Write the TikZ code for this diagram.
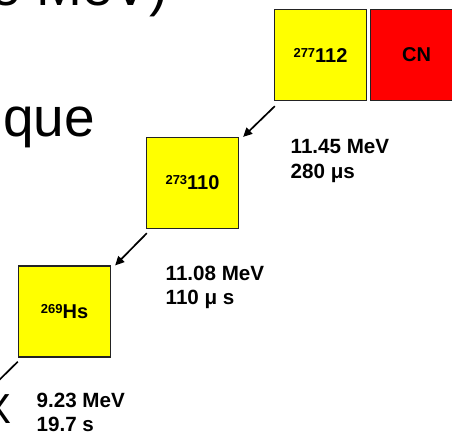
\documentclass[tikz,border=0pt]{standalone}
\usepackage{fontspec}
\setmainfont{Liberation Sans}
\usetikzlibrary{arrows.meta}
\definecolor{nucyellow}{RGB}{255,255,0}
\definecolor{nucred}{RGB}{255,0,0}
\definecolor{boxline}{RGB}{35,35,35}
\tikzset{
  nuc/.style={draw=boxline, line width=1.3pt, minimum width=92pt, minimum height=91pt,
    inner sep=0pt, font=\fontsize{20}{22}\selectfont\bfseries},
  decay/.style={draw=black, line width=1.7pt, -{Triangle[length=9pt,width=8.5pt]}},
  info/.style={anchor=north west, inner sep=0pt, align=left,
    font=\fontsize{20.6}{24.5}\selectfont\bfseries},
  big/.style={inner sep=0pt, font=\fontsize{55}{66}\selectfont}
}
\newcommand{\iso}[2]{{\fontsize{13}{13}\selectfont\raisebox{5pt}{#1}}#2}
\begin{document}
\begin{tikzpicture}[x=1pt,y=-1pt]
\useasboundingbox (0,0) rectangle (452,434);
\clip (0,0) rectangle (452,434);
\fill[white] (0,0) rectangle (452,434);
% large background text (cut off by the frame)
\node[big, anchor=base east] (t1) at (168,5) {e MeV)};
\node[big, anchor=base east] (t2) at (95,136) {que};
\node[inner sep=0pt, anchor=base east, font=\fontsize{42}{50}\selectfont] (t3) at (12,423) {X};
% nuclei
\node[nuc, fill=nucyellow] (n277) at (320.5,55) {\iso{277}{112}};
\node[nuc, fill=nucred] (cn) at (416.5,55) {CN};
\node[nuc, fill=nucyellow] (n273) at (192.5,183) {\iso{273}{110}};
\node[nuc, fill=nucyellow] (n269) at (64.5,311.5) {\iso{269}{Hs}};
% decays
\coordinate (off) at (-12,391);
\draw[decay] ([shift={(1,5)}]n277.south west) -- ([shift={(4,0)}]n273.north east);
\draw[decay] ([shift={(1,4)}]n273.south west) -- ([shift={(4,0)}]n269.north east);
\draw[decay] ([shift={(0,4)}]n269.south west) -- (off);
% decay labels
\node[info] (l1) at (290.5,139.5) {11.45 MeV\\280 μs};
\node[info] (l2) at (165.5,265.5) {11.08 MeV\\110 μ s};
\node[info] (l3) at (36.5,392.5) {9.23 MeV\\19.7 s};
\end{tikzpicture}
\end{document}
